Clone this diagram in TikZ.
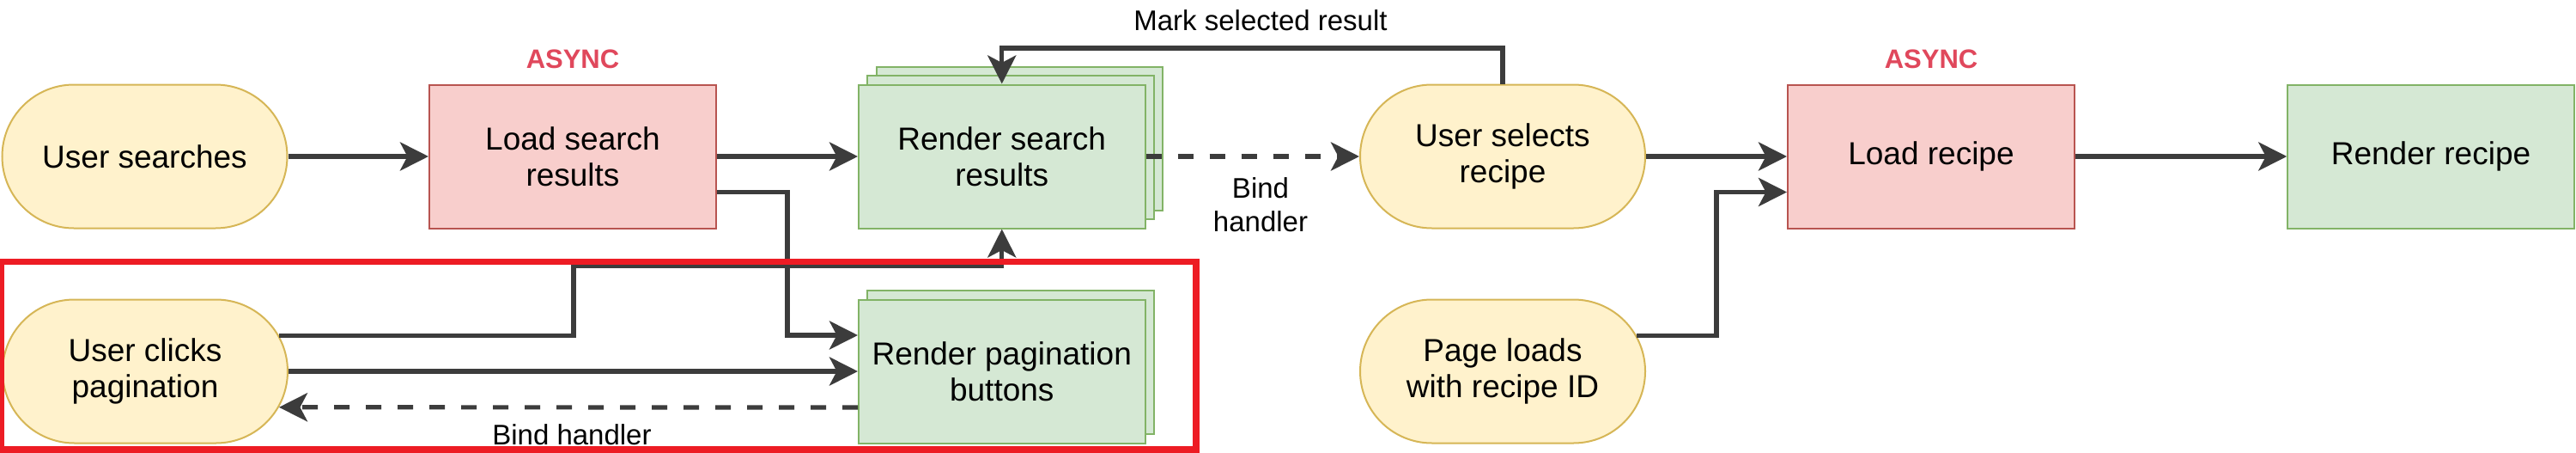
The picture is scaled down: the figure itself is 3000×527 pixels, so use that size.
\documentclass[tikz,border=0pt]{standalone}
\usepackage{fontspec}
\setmainfont{Liberation Sans}
\usetikzlibrary{arrows.meta,calc,shapes.misc}
\definecolor{yfill}{HTML}{FFF2CC}
\definecolor{ydraw}{HTML}{D6B656}
\definecolor{rfill}{HTML}{F8CECC}
\definecolor{rdraw}{HTML}{B85450}
\definecolor{gfill}{HTML}{D5E8D4}
\definecolor{gdraw}{HTML}{82B366}
\definecolor{conncol}{HTML}{3C3C3C}
\definecolor{asynccol}{HTML}{E0485C}
\definecolor{hilite}{HTML}{ED1C24}
\begin{document}
\begin{tikzpicture}[x=1pt,y=-1pt,
  box/.style={draw, line width=2pt, minimum width=334pt, minimum height=167pt,
    inner sep=0pt, align=center, font=\fontsize{37pt}{42pt}\selectfont},
  evt/.style={box, shape=rounded rectangle, fill=yfill, draw=ydraw, minimum width=332pt},
  loadbox/.style={box, fill=rfill, draw=rdraw},
  renderbox/.style={box, fill=gfill, draw=gdraw, minimum width=333.5pt},
  arrowline/.style={draw=conncol, line width=5.2pt,
    -{Stealth[length=33pt,width=33pt,inset=8.5pt]}},
  dashline/.style={arrowline, dash pattern=on 18pt off 19pt},
  lbl/.style={font=\fontsize{33pt}{38.5pt}\selectfont, align=center, inner sep=0pt},
  asynclbl/.style={font=\fontsize{31pt}{36pt}\selectfont\bfseries, text=asynccol, inner sep=0pt},
  focusbox/.style={draw=hilite, line width=7.6pt, inner sep=0pt}
]
\useasboundingbox (0,0) rectangle (3000,527);
\fill[white] (0,0) rectangle (3000,527);

% top row
\node[evt] (us) at (168.5,182) {User searches};
\node[loadbox] (lsr) at (667,182) {Load search\\results};
\node[renderbox] (rsrC) at (1187.55,161.2) {};
\node[renderbox] (rsrB) at (1177.15,171.6) {};
\node[renderbox] (rsr) at (1166.75,182) {Render search\\results};
\node[evt] (usr) at (1750,182) {User selects\\recipe};
\node[loadbox] (lr) at (2249,182) {Load recipe};
\node[renderbox] (rr) at (2831,182) {Render recipe};

% bottom row
\node[evt] (ucp) at (169,432) {User clicks\\pagination};
\node[renderbox] (rpbB) at (1177.15,421.6) {};
\node[renderbox] (rpb) at (1166.75,432) {Render pagination\\buttons};
\node[evt] (pl) at (1750,432) {Page loads\\with recipe ID};

% labels
\node[asynclbl] (async1) at (667,69) {ASYNC};
\node[asynclbl] (async2) at (2249,69) {ASYNC};
\node[lbl] (marklbl) at (1468,23.5) {Mark selected result};
\node[lbl] (bindA) at (1468,238) {Bind\\handler};
\node[lbl] (bindB) at (666,506) {Bind handler};

% connectors
\draw[arrowline] (us.east) -- (lsr.west);
\draw[arrowline] (lsr.east) -- (rsr.west);
\draw[arrowline] ($(lsr.east)+(0,41.5)$) -| ($(rpb.west)+(-82,-42)$) -- ($(rpb.west)+(0,-42)$);
\draw[arrowline] (ucp.15.18) -| ($(rsr.south)+(-498.75,43)$) -| (rsr.south);
\draw[arrowline] (ucp.east) -- (rpb.west);
\draw[dashline] ($(rpb.west)+(0,42)$) -- (ucp.-15.18);
\draw[dashline] (rsr.east) -- (usr.west);
\draw[arrowline] (usr.north) -- ++(0,-41.5) -| (rsr.north);
\draw[arrowline] (usr.east) -- (lr.west);
\draw[arrowline] (pl.15.18) -| ($(lr.west)+(-82,41.5)$) -- ($(lr.west)+(0,41.5)$);
\draw[arrowline] (lr.east) -- (rr.west);

% highlight frame
\node[focusbox, minimum width=1392pt, minimum height=218.5pt] (focus) at (697,413.75) {};
\end{tikzpicture}
\end{document}
